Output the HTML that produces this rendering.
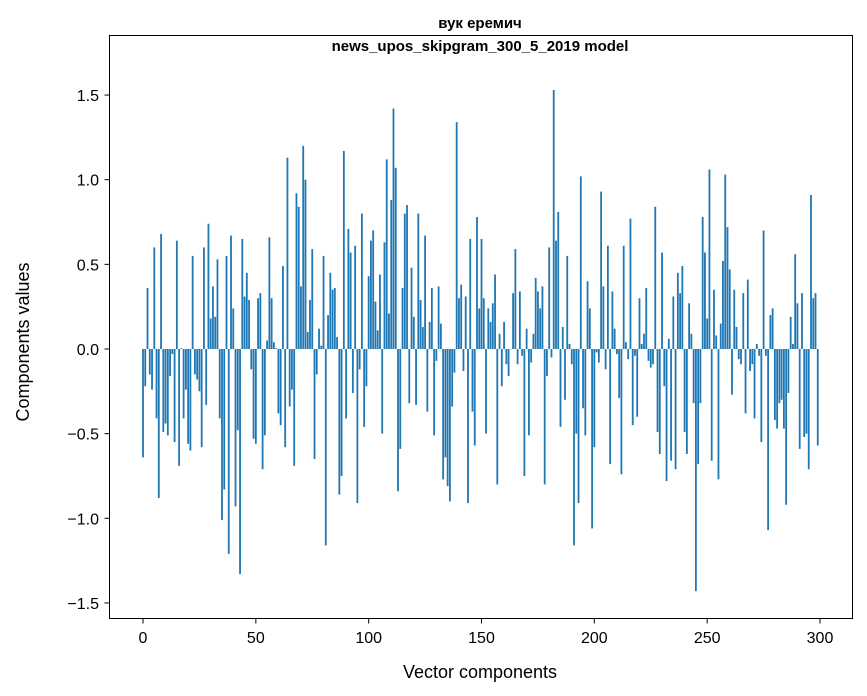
<!DOCTYPE html>
<html><head><meta charset="utf-8"><style>
body{margin:0;background:#fff}
svg{display:block;font-family:"Liberation Sans","DejaVu Sans",sans-serif}
</style></head><body>
<svg id="chart" width="867" height="696">
<rect width="867" height="696" fill="#fff"/>
<text x="480" y="28" text-anchor="middle" font-size="15" font-weight="bold">вук еремич</text>
<text x="480" y="51" text-anchor="middle" font-size="15" font-weight="bold">news_upos_skipgram_300_5_2019 model</text>
<g id="bars"></g>
<g id="axes"></g>
<rect x="109.5" y="35.5" width="743" height="583" fill="none" stroke="#000" stroke-width="1"/>
<text x="480" y="678" text-anchor="middle" font-size="18">Vector components</text>
<text transform="translate(29,342) rotate(-90)" text-anchor="middle" font-size="18">Components values</text>
</svg>
<script>
const values = [
-0.64,-0.22,0.36,-0.15,-0.24,0.60,-0.41,-0.88,0.68,-0.49,
-0.44,-0.51,-0.16,-0.03,-0.55,0.64,-0.69,0.005,-0.41,-0.24,
-0.56,-0.60,0.55,-0.15,-0.18,-0.25,-0.58,0.60,-0.33,0.74,
0.18,0.37,0.19,0.53,-0.41,-1.01,-0.83,0.55,-1.21,0.67,
0.24,-0.93,-0.48,-1.33,0.65,0.31,0.45,0.29,-0.12,-0.53,
-0.56,0.30,0.33,-0.71,-0.51,0.05,0.66,0.30,0.04,0.005,
-0.38,-0.45,0.49,-0.58,1.13,-0.34,-0.24,-0.69,0.92,0.84,
0.37,1.20,1.00,0.10,0.29,0.59,-0.65,-0.15,0.12,0.02,
0.55,-1.16,0.20,0.45,0.35,0.36,0.07,-0.86,-0.75,1.17,
-0.41,0.71,0.57,-0.26,0.61,-0.91,-0.12,0.80,-0.46,-0.22,
0.43,0.64,0.70,0.28,0.11,0.44,-0.50,0.63,1.12,0.21,
0.88,1.42,1.07,-0.84,-0.59,0.36,0.80,0.85,-0.32,0.48,
0.19,-0.33,0.80,0.29,0.13,0.67,-0.37,0.16,0.36,-0.51,
-0.07,0.37,0.15,-0.77,-0.64,-0.81,-0.90,-0.34,-0.14,1.34,
0.30,0.38,-0.13,0.31,-0.91,0.65,-0.37,-0.57,0.78,0.24,
0.65,0.30,-0.50,0.24,0.16,0.27,0.44,-0.80,0.09,-0.22,
0.16,-0.09,-0.16,0.0,0.33,0.59,-0.09,0.34,-0.04,-0.75,
0.12,-0.51,-0.08,0.09,0.42,0.34,0.24,0.37,-0.80,-0.16,
0.60,-0.05,1.53,0.64,0.81,-0.46,0.13,-0.30,0.55,0.03,
-0.09,-1.16,-0.50,-0.91,1.02,-0.35,-0.51,0.40,0.24,-1.06,
-0.58,-0.02,-0.08,0.93,0.37,-0.12,0.61,-0.68,0.34,0.12,
-0.03,-0.29,-0.74,0.61,0.04,-0.06,0.77,-0.45,-0.04,-0.40,
0.30,0.03,0.09,0.36,-0.07,-0.11,-0.09,0.84,-0.49,-0.62,
0.57,-0.22,-0.78,0.06,-0.66,0.31,-0.71,0.45,0.33,0.49,
-0.49,-0.62,0.27,0.09,-0.32,-1.43,-0.68,-0.32,0.78,0.57,
0.18,1.06,-0.66,0.35,0.08,-0.77,0.15,0.52,1.03,0.72,
0.47,-0.27,0.35,0.13,-0.06,-0.09,0.33,-0.38,0.41,-0.13,
-0.09,-0.41,0.03,-0.04,-0.55,0.70,-0.04,-1.07,0.20,0.24,
-0.42,-0.47,-0.32,-0.30,-0.47,-0.92,-0.26,0.19,0.03,0.56,
0.27,-0.59,0.33,-0.52,-0.50,-0.71,0.91,0.30,0.33,-0.57
];
const xTicks = [0,50,100,150,200,250,300];
const yTicks = [-1.5,-1.0,-0.5,0.0,0.5,1.0,1.5];
const yTickLabels = ["\u22121.5","\u22121.0","\u22120.5","0.0","0.5","1.0","1.5"];

const NS="http://www.w3.org/2000/svg";
function xs(v){return 143+v*2.2567;}
function ys(v){return 349-v*169.3;}
const bars=document.getElementById('bars');
values.forEach((v,i)=>{
  const r=document.createElementNS(NS,'rect');
  const y0=ys(0), y1=ys(v);
  r.setAttribute('x',xs(i-0.4));
  r.setAttribute('width',0.8*2.2567);
  r.setAttribute('y',Math.min(y0,y1));
  r.setAttribute('height',Math.max(Math.abs(y1-y0),0.3));
  r.setAttribute('fill','#1f77b4');
  
  
  bars.appendChild(r);
});
const axes=document.getElementById('axes');
xTicks.forEach(t=>{
  const l=document.createElementNS(NS,'line');
  l.setAttribute('x1',xs(t));l.setAttribute('x2',xs(t));
  l.setAttribute('y1',618.5);l.setAttribute('y2',623.5);
  l.setAttribute('stroke','#000');
  
  
  axes.appendChild(l);
  const tx=document.createElementNS(NS,'text');
  tx.setAttribute('x',xs(t));tx.setAttribute('y',643);
  tx.setAttribute('text-anchor','middle');tx.setAttribute('font-size','16');
  tx.textContent=t;
  
  
  axes.appendChild(tx);
});
yTicks.forEach((t,i)=>{
  const l=document.createElementNS(NS,'line');
  l.setAttribute('x1',104.5);l.setAttribute('x2',109.5);
  l.setAttribute('y1',ys(t));l.setAttribute('y2',ys(t));
  l.setAttribute('stroke','#000');
  
  
  axes.appendChild(l);
  const tx=document.createElementNS(NS,'text');
  tx.setAttribute('x',99);tx.setAttribute('y',ys(t)+6);
  tx.setAttribute('text-anchor','end');tx.setAttribute('font-size','16');
  tx.textContent=yTickLabels[i];
  
  
  axes.appendChild(tx);
});
</script>
</body></html>
